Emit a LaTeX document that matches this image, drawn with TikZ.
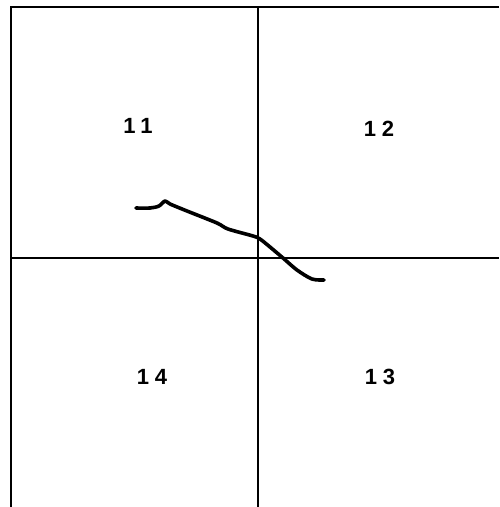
\documentclass[tikz,border=0pt]{standalone}
\usepackage{fontspec}
\setmainfont{Liberation Sans}
\newfontfamily\lblfont{Liberation Sans}[Scale=1.0]
\begin{document}
\begin{tikzpicture}[x=1pt,y=-1pt,
  grid/.style={line width=1.6pt,black},
  lbl/.style={font=\lblfont\bfseries\fontsize{22}{22}\selectfont,inner sep=0pt},
  track/.style={line width=3.6pt,line cap=round,line join=round}]
\useasboundingbox (0,0) rectangle (499,507);
% grid
\coordinate (tl) at (11,7);
\coordinate (tr) at (499,7);
\coordinate (tm) at (258,7);
\coordinate (bm) at (258,507);
\coordinate (bl) at (11,507);
\coordinate (ml) at (11,258);
\coordinate (mr) at (499,258);
\draw[grid] (tr) -- (tl) -- (bl);
\draw[grid] (tm) -- (bm);
\draw[grid] (ml) -- (mr);
% labels
\node[lbl] (a11) at (138,126) {1\hspace{5pt}1};
\node[lbl] (a12) at (379,129) {1\hspace{6pt}2};
\node[lbl] (a14) at (152,377) {1\hspace{6pt}4};
\node[lbl] (a13) at (380,377) {1\hspace{6pt}3};
% track
\draw[track] plot[smooth,tension=0.5] coordinates {
 (136,208) (150,208) (159,206) (165,201) (170,204) (187,211) (217,223)
 (228,229) (253,236) (260,239) (270,247) (283,258) (297,270) (312,279) (324,280)};
\end{tikzpicture}
\end{document}
